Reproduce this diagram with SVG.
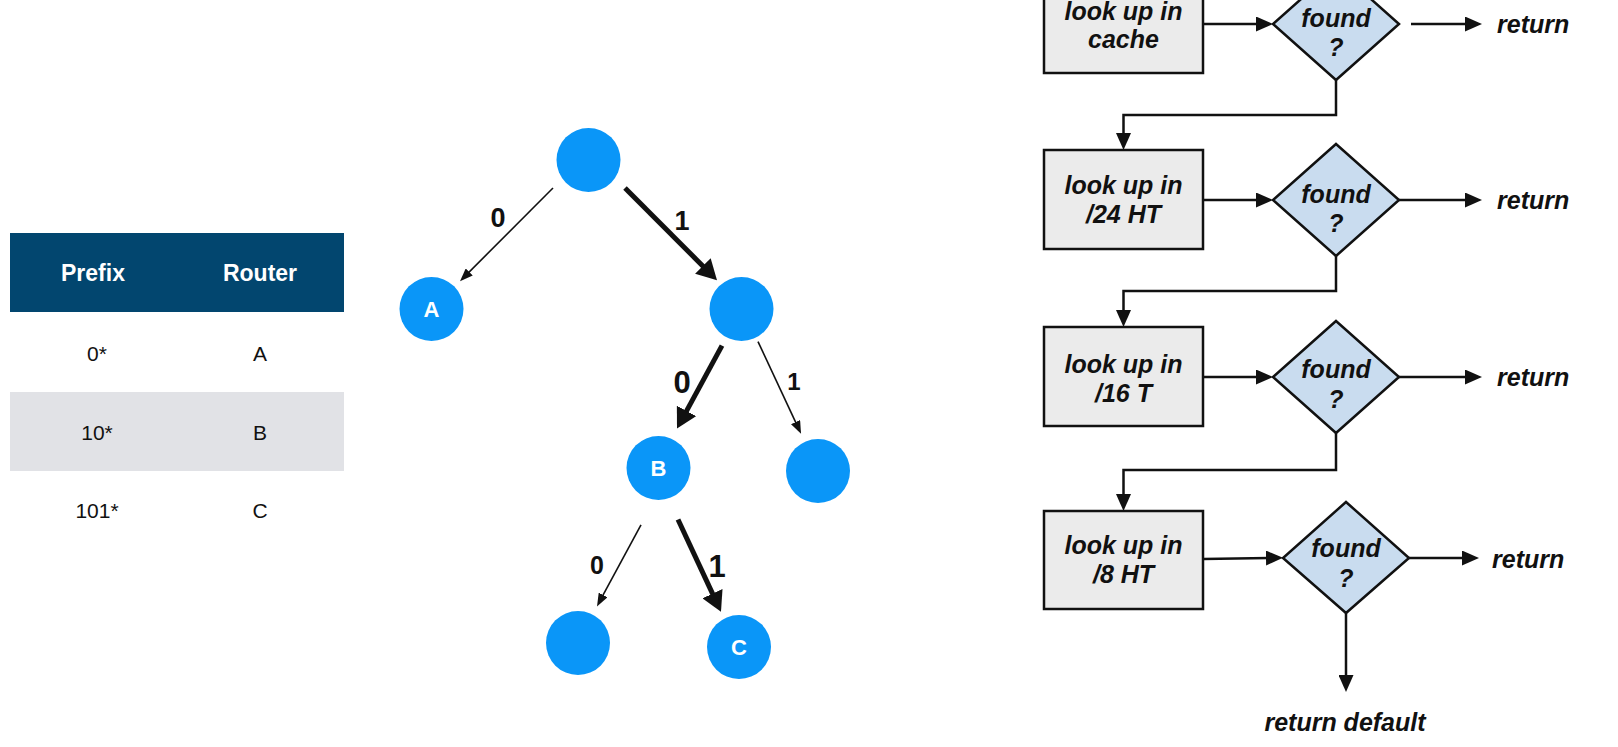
<svg xmlns="http://www.w3.org/2000/svg" width="1618" height="747" viewBox="0 0 1618 747">
<style>
.tbl{font-family:"Liberation Sans",Arial,sans-serif;font-size:21px;fill:#111;text-anchor:middle}
.th{font-family:"Liberation Sans",Arial,sans-serif;font-size:23px;font-weight:bold;fill:#fff;text-anchor:middle}
.node{fill:#0A96F8}
.nl{font-family:"Liberation Sans",Arial,sans-serif;font-size:22px;font-weight:bold;fill:#fff;text-anchor:middle}
.el{font-family:"Liberation Sans",Arial,sans-serif;font-weight:bold;fill:#111;text-anchor:middle}
.thin{stroke:#111;stroke-width:1.6;fill:none}
.thick{stroke:#111;stroke-width:5;fill:none}
.box{fill:#EBEBEB;stroke:#111;stroke-width:2.5}
.dia{fill:#C9DCEF;stroke:#111;stroke-width:2.5}
.ft{font-family:"Liberation Sans",Arial,sans-serif;font-size:25px;font-weight:bold;font-style:italic;fill:#111;text-anchor:middle}
.rt{font-family:"Liberation Sans",Arial,sans-serif;font-size:25px;font-weight:bold;font-style:italic;fill:#111}
.fl{stroke:#111;stroke-width:2.5;fill:none}
</style>
<defs>
<marker id="ah" markerUnits="userSpaceOnUse" markerWidth="14" markerHeight="10" refX="2" refY="5" orient="auto"><path d="M0,0 L13,5 L0,10 z" fill="#111"/></marker>
<marker id="ahk" markerUnits="userSpaceOnUse" markerWidth="21" markerHeight="22" refX="3" refY="11" orient="auto"><path d="M0,0 L20,11 L0,22 z" fill="#111"/></marker>
<marker id="fa" markerUnits="userSpaceOnUse" markerWidth="18" markerHeight="15" refX="3" refY="7.5" orient="auto"><path d="M0,0 L17,7.5 L0,15 z" fill="#111"/></marker>
</defs>
<rect width="1618" height="747" fill="#fff"/>

<g id="table">
<rect x="10" y="233" width="334" height="79" fill="#02466F"/>
<rect x="10" y="392" width="334" height="79" fill="#E1E2E6"/>
<text class="th" x="93" y="281">Prefix</text>
<text class="th" x="260" y="281">Router</text>
<text class="tbl" x="97" y="361">0*</text>
<text class="tbl" x="260" y="361">A</text>
<text class="tbl" x="97" y="440">10*</text>
<text class="tbl" x="260" y="440">B</text>
<text class="tbl" x="97" y="518">101*</text>
<text class="tbl" x="260" y="518">C</text>
</g>

<g id="tree-edges">
<line class="thin" x1="553" y1="188" x2="467.8" y2="273.4" marker-end="url(#ah)"/>
<line class="thick" x1="625" y1="188" x2="705" y2="268.2" marker-end="url(#ahk)"/>
<line class="thick" x1="722" y1="345.6" x2="685.1" y2="413.6" marker-end="url(#ahk)"/>
<line class="thin" x1="758" y1="341.6" x2="796.4" y2="423.9" marker-end="url(#ah)"/>
<line class="thin" x1="641" y1="524.8" x2="602.2" y2="596.7" marker-end="url(#ah)"/>
<line class="thick" x1="678" y1="519.5" x2="713.8" y2="596.4" marker-end="url(#ahk)"/>
<text class="el" x="498" y="227" font-size="27">0</text>
<text class="el" x="682" y="230" font-size="27">1</text>
<text class="el" x="682" y="393" font-size="31">0</text>
<text class="el" x="794" y="390" font-size="24">1</text>
<text class="el" x="597" y="574" font-size="25">0</text>
<text class="el" x="717" y="577" font-size="31">1</text>
</g>

<g id="n-root"><circle class="node" cx="588.5" cy="160" r="32"/></g>
<g id="n-A"><circle class="node" cx="431.5" cy="309" r="32"/><text class="nl" x="431.5" y="317">A</text></g>
<g id="n-1"><circle class="node" cx="741.5" cy="309" r="32"/></g>
<g id="n-B"><circle class="node" cx="658.5" cy="468" r="32"/><text class="nl" x="658.5" y="476">B</text></g>
<g id="n-11"><circle class="node" cx="818" cy="471" r="32"/></g>
<g id="n-100"><circle class="node" cx="578" cy="643" r="32"/></g>
<g id="n-C"><circle class="node" cx="739" cy="647" r="32"/><text class="nl" x="739" y="655">C</text></g>

<g id="flow-connectors">
<line class="fl" x1="1203" y1="24" x2="1259" y2="24" marker-end="url(#fa)"/>
<line class="fl" x1="1411" y1="24" x2="1468" y2="24" marker-end="url(#fa)"/>
<polyline class="fl" points="1336,80 1336,115 1123.5,115 1123.5,136" marker-end="url(#fa)"/>
<line class="fl" x1="1203" y1="200" x2="1259" y2="200" marker-end="url(#fa)"/>
<line class="fl" x1="1399" y1="200" x2="1468" y2="200" marker-end="url(#fa)"/>
<polyline class="fl" points="1336,256 1336,291 1123.5,291 1123.5,313" marker-end="url(#fa)"/>
<line class="fl" x1="1203" y1="377" x2="1259" y2="377" marker-end="url(#fa)"/>
<line class="fl" x1="1399" y1="377" x2="1468" y2="377" marker-end="url(#fa)"/>
<polyline class="fl" points="1336,433 1336,470 1123.5,470 1123.5,497" marker-end="url(#fa)"/>
<line class="fl" x1="1203" y1="559" x2="1269" y2="558" marker-end="url(#fa)"/>
<line class="fl" x1="1409" y1="558" x2="1465" y2="558" marker-end="url(#fa)"/>
<line class="fl" x1="1346" y1="613" x2="1346" y2="678" marker-end="url(#fa)"/>
</g>

<g id="box-cache"><rect class="box" x="1044" y="-26" width="159" height="99"/><text class="ft" x="1123.5" y="20">look up in</text><text class="ft" x="1123.5" y="48">cache</text></g>
<g id="dia-1"><polygon class="dia" points="1336,-32 1399,24 1336,80 1273,24"/><text class="ft" x="1336" y="27">found</text><text class="ft" x="1336" y="56">?</text></g>
<g id="ret-1"><text class="rt" x="1497" y="33">return</text></g>

<g id="box-24"><rect class="box" x="1044" y="150" width="159" height="99"/><text class="ft" x="1123.5" y="194">look up in</text><text class="ft" x="1123.5" y="223">/24 HT</text></g>
<g id="dia-2"><polygon class="dia" points="1336,144 1399,200 1336,256 1273,200"/><text class="ft" x="1336" y="203">found</text><text class="ft" x="1336" y="232">?</text></g>
<g id="ret-2"><text class="rt" x="1497" y="209">return</text></g>

<g id="box-16"><rect class="box" x="1044" y="327" width="159" height="99"/><text class="ft" x="1123.5" y="373">look up in</text><text class="ft" x="1123.5" y="402">/16 T</text></g>
<g id="dia-3"><polygon class="dia" points="1336,321 1399,377 1336,433 1273,377"/><text class="ft" x="1336" y="378">found</text><text class="ft" x="1336" y="408">?</text></g>
<g id="ret-3"><text class="rt" x="1497" y="386">return</text></g>

<g id="box-8"><rect class="box" x="1044" y="511" width="159" height="98"/><text class="ft" x="1123.5" y="554">look up in</text><text class="ft" x="1123.5" y="583">/8 HT</text></g>
<g id="dia-4"><polygon class="dia" points="1346,502 1409,558 1346,613 1283,558"/><text class="ft" x="1346" y="557">found</text><text class="ft" x="1346" y="587">?</text></g>
<g id="ret-4"><text class="rt" x="1492" y="568">return</text></g>
<g id="ret-default"><text class="ft" x="1345" y="731">return default</text></g>
</svg>
